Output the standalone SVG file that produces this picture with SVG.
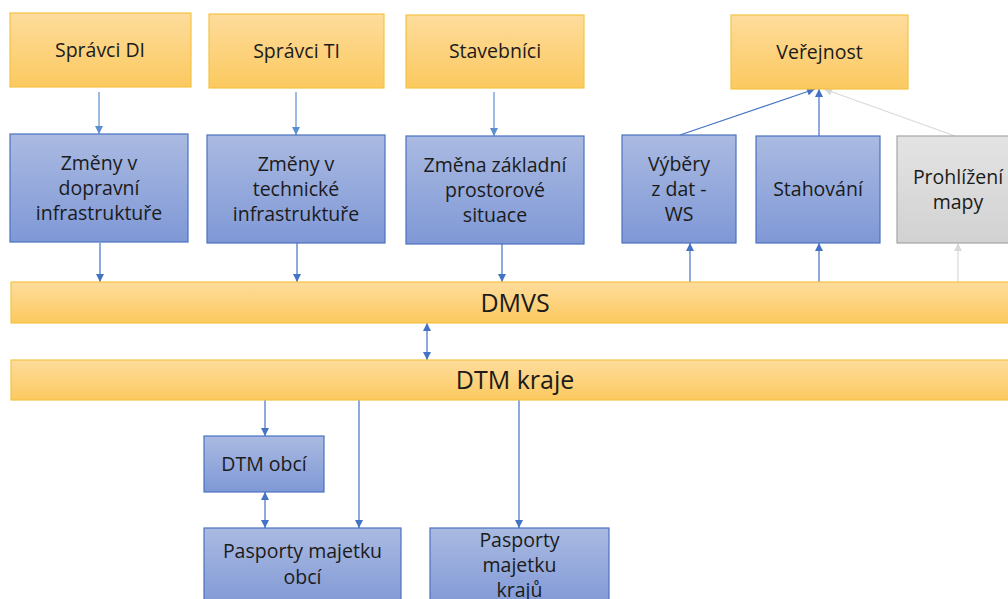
<svg xmlns="http://www.w3.org/2000/svg" width="1008" height="599" viewBox="0 0 1008 599">
  <style>
    .lbl { font-family: "Open Sans", "Liberation Sans", sans-serif; font-size: 19.5px; fill: #1b1b1b; text-anchor: middle; }
    .big { font-size: 25px; }
    .yel { fill: url(#gYel); stroke: #F5C444; stroke-width: 1.2; }
    .blu { fill: url(#gBlu); stroke: #4A72C2; stroke-width: 1.2; }
    .gry { fill: url(#gGry); stroke: #A6A6A6; stroke-width: 1.2; }
    .ln { fill: none; stroke: #4472C4; stroke-width: 1.2; }
    .lnl { fill: none; stroke: #5B8FD0; stroke-width: 1.2; }
    .lng { fill: none; stroke: #D9D9D9; stroke-width: 1.2; }
  </style>
  <defs>
    <linearGradient id="gYel" x1="0" y1="0" x2="0" y2="1">
      <stop offset="0" stop-color="#FEDC9C"/>
      <stop offset="1" stop-color="#FBC95F"/>
    </linearGradient>
    <linearGradient id="gBlu" x1="0" y1="0" x2="0" y2="1">
      <stop offset="0" stop-color="#AABAE1"/>
      <stop offset="1" stop-color="#7F98D6"/>
    </linearGradient>
    <linearGradient id="gGry" x1="0" y1="0" x2="0" y2="1">
      <stop offset="0" stop-color="#E3E3E3"/>
      <stop offset="1" stop-color="#D2D2D2"/>
    </linearGradient>
    <marker id="ah" viewBox="0 0 10 10" refX="10" refY="5" markerWidth="9" markerHeight="8" markerUnits="userSpaceOnUse" orient="auto-start-reverse">
      <path d="M0,0 L10,5 L0,10 Z" fill="#4472C4"/>
    </marker>
    <marker id="ahl" viewBox="0 0 10 10" refX="10" refY="5" markerWidth="9" markerHeight="8" markerUnits="userSpaceOnUse" orient="auto-start-reverse">
      <path d="M0,0 L10,5 L0,10 Z" fill="#5B8FD0"/>
    </marker>
    <marker id="ahg" viewBox="0 0 10 10" refX="10" refY="5" markerWidth="9" markerHeight="8" markerUnits="userSpaceOnUse" orient="auto-start-reverse">
      <path d="M0,0 L10,5 L0,10 Z" fill="#D9D9D9"/>
    </marker>
  </defs>

  <rect width="1008" height="599" fill="#FFFFFF"/>

  <!-- connectors -->
  <g id="connectors">
    <line class="lnl" x1="99" y1="92" x2="99" y2="134" marker-end="url(#ahl)"/>
    <line class="lnl" x1="296" y1="92" x2="296" y2="135" marker-end="url(#ahl)"/>
    <line class="lnl" x1="494" y1="92" x2="494" y2="136" marker-end="url(#ahl)"/>

    <line class="ln" x1="100" y1="243" x2="100" y2="282" marker-end="url(#ah)"/>
    <line class="ln" x1="297" y1="243" x2="297" y2="282" marker-end="url(#ah)"/>
    <line class="ln" x1="502" y1="244" x2="502" y2="282" marker-end="url(#ah)"/>

    <line class="ln" x1="690" y1="282" x2="690" y2="243" marker-end="url(#ah)"/>
    <line class="ln" x1="819" y1="282" x2="819" y2="243" marker-end="url(#ah)"/>
    <line class="lng" x1="958" y1="282" x2="958" y2="243" marker-end="url(#ahg)"/>

    <line class="ln" x1="680" y1="135" x2="815" y2="89" marker-end="url(#ah)"/>
    <line class="ln" x1="819" y1="136" x2="819" y2="89" marker-end="url(#ah)"/>
    <line class="lng" x1="955" y1="136" x2="824" y2="89" marker-end="url(#ahg)"/>

    <line class="ln" x1="427" y1="323" x2="427" y2="360" marker-start="url(#ah)" marker-end="url(#ah)"/>

    <line class="ln" x1="265" y1="400" x2="265" y2="436" marker-end="url(#ah)"/>
    <line class="ln" x1="265" y1="492" x2="265" y2="528" marker-start="url(#ah)" marker-end="url(#ah)"/>
    <line class="ln" x1="359" y1="400" x2="359" y2="528" marker-end="url(#ah)"/>
    <line class="ln" x1="519" y1="400" x2="519" y2="528" marker-end="url(#ah)"/>
  </g>

  <!-- actors -->
  <g id="spravci-di">
    <rect class="yel" x="10" y="13" width="181" height="74"/>
    <text class="lbl" x="100" y="57">Správci DI</text>
  </g>
  <g id="spravci-ti">
    <rect class="yel" x="209" y="14" width="175" height="74"/>
    <text class="lbl" x="296.5" y="58">Správci TI</text>
  </g>
  <g id="stavebnici">
    <rect class="yel" x="406" y="15" width="178" height="73"/>
    <text class="lbl" x="495" y="58">Stavebníci</text>
  </g>
  <g id="verejnost">
    <rect class="yel" x="731" y="15" width="177" height="74"/>
    <text class="lbl" x="819.5" y="59">Veřejnost</text>
  </g>

  <!-- change sources -->
  <g id="zmeny-di">
    <rect class="blu" x="10" y="134" width="178" height="108"/>
    <text class="lbl" x="99" y="170">Změny v</text>
    <text class="lbl" x="99" y="195">dopravní</text>
    <text class="lbl" x="99" y="220">infrastruktuře</text>
  </g>
  <g id="zmeny-ti">
    <rect class="blu" x="207" y="135" width="178" height="108"/>
    <text class="lbl" x="296" y="171">Změny v</text>
    <text class="lbl" x="296" y="196">technické</text>
    <text class="lbl" x="296" y="221">infrastruktuře</text>
  </g>
  <g id="zmena-zps">
    <rect class="blu" x="406" y="136" width="178" height="108"/>
    <text class="lbl" x="495" y="172">Změna základní</text>
    <text class="lbl" x="495" y="197">prostorové</text>
    <text class="lbl" x="495" y="222">situace</text>
  </g>

  <!-- services -->
  <g id="vybery">
    <rect class="blu" x="622" y="135" width="114" height="108"/>
    <text class="lbl" x="679" y="171">Výběry</text>
    <text class="lbl" x="679" y="196">z dat -</text>
    <text class="lbl" x="679" y="221">WS</text>
  </g>
  <g id="stahovani">
    <rect class="blu" x="756" y="136" width="124" height="107"/>
    <text class="lbl" x="818" y="196">Stahování</text>
  </g>
  <g id="prohlizeni">
    <rect class="gry" x="897" y="136" width="122" height="107"/>
    <text class="lbl" x="958" y="184">Prohlížení</text>
    <text class="lbl" x="958" y="209">mapy</text>
  </g>

  <!-- central layers -->
  <g id="dmvs">
    <rect class="yel" x="11" y="282" width="1010" height="41"/>
    <text class="lbl big" x="515" y="312">DMVS</text>
  </g>
  <g id="dtm-kraje">
    <rect class="yel" x="11" y="360" width="1010" height="40"/>
    <text class="lbl big" x="515" y="389">DTM kraje</text>
  </g>

  <!-- lower level -->
  <g id="dtm-obci">
    <rect class="blu" x="204" y="436" width="120" height="56"/>
    <text class="lbl" x="264" y="471">DTM obcí</text>
  </g>
  <g id="pasporty-obci">
    <rect class="blu" x="204" y="528" width="197" height="80"/>
    <text class="lbl" x="302.5" y="558">Pasporty majetku</text>
    <text class="lbl" x="302.5" y="584">obcí</text>
  </g>
  <g id="pasporty-kraju">
    <rect class="blu" x="430" y="528" width="179" height="80"/>
    <text class="lbl" x="519.5" y="547">Pasporty</text>
    <text class="lbl" x="519.5" y="572">majetku</text>
    <text class="lbl" x="519.5" y="597">krajů</text>
  </g>
</svg>
